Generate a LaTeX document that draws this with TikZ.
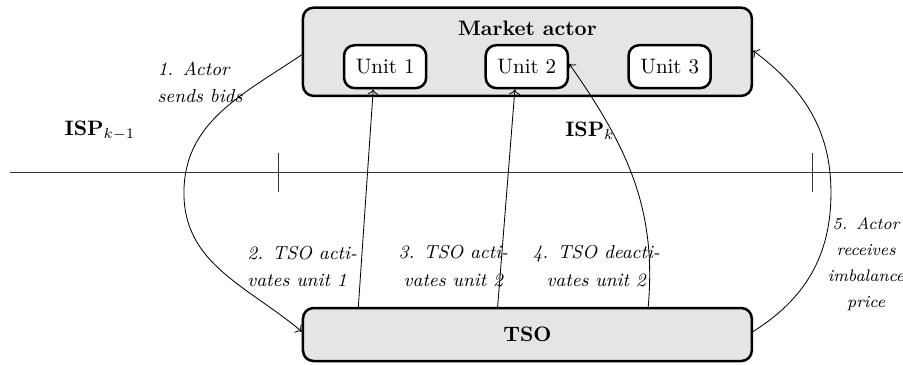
\documentclass[tikz,border=0pt]{standalone}
\usepackage{tikz}
\usetikzlibrary{calc}
\usetikzlibrary{arrows.meta}

\begin{document}
\begin{tikzpicture} [
  bigbox/.style={draw,very thick,rounded corners=5pt,fill=gray!20,minimum width=7.54cm},
  unitbox/.style={draw,very thick,rounded corners=5pt,fill=white,minimum width=1.38cm,minimum height=0.72cm},
  steplabel/.style={font=\small\itshape,align=left,inner sep=0pt,anchor=west}
]

\useasboundingbox (0,0) rectangle (15.17,-6.13);

\coordinate (L) at (0.17,-2.89);
\coordinate (R) at (15.17,-2.89);
\coordinate (bidbend) at (3.09,-3.24);
\coordinate (pricebend) at (13.96,-3.24);

\node[bigbox,minimum height=1.48cm] (actor) at (8.86,-0.87) {};
\node[font=\bfseries] (actortitle) at (8.86,-0.47) {Market actor};
\node[unitbox] (unit1) at (6.47,-1.12) {Unit 1};
\node[unitbox] (unit2) at (8.85,-1.12) {Unit 2};
\node[unitbox] (unit3) at (11.25,-1.12) {Unit 3};
\node[bigbox,minimum height=0.89cm,font=\bfseries] (tso) at (8.86,-5.62) {TSO};

\draw[black!80] (L)--(R);
\draw[black!80] (4.67,-2.57)--(4.67,-3.23);
\draw[black!80] (13.64,-2.57)--(13.64,-3.23);

\node (ispa) at (1.68,-2.2) {$\mathbf{ISP}_{k-1}$};
\node (ispb) at (9.91,-2.2) {$\mathbf{ISP}_{k}$};

\draw[->] ([yshift=-0.05cm]actor.west) to[out=214,in=90] (bidbend) to[out=-90,in=140] ([yshift=0.05cm]tso.west);
\draw[->] ([xshift=-2.84cm]tso.north) -- ([xshift=-0.2cm]unit1.south);
\draw[->] ([xshift=-0.5cm]tso.north) -- ([xshift=-0.2cm]unit2.south);
\draw[->] ([xshift=2.03cm]tso.north) to[out=85,in=-55] ([yshift=0.05cm]unit2.east);
\draw[->] ([yshift=0.05cm]tso.east) to[out=32,in=-90] (pricebend) to[out=90,in=-37] ([yshift=0.02cm]actor.east);

\node[steplabel] (s1) at (2.64,-1.38) {1. Actor\\[2pt]sends bids};
\node[steplabel] (s2) at (4.15,-4.47) {2. TSO acti-\\[2pt]vates unit 1};
\node[steplabel,align=center] (s3) at (6.69,-4.47) {3. TSO acti-\\[2pt]vates unit 2};
\node[steplabel,align=center] (s4) at (8.94,-4.47) {4. TSO deacti-\\[2pt]vates unit 2};
\node[steplabel,align=center,anchor=center,font=\footnotesize\itshape] (s5) at (14.55,-4.44) {5. Actor\\[3pt]receives\\[3pt]imbalance\\[3pt]price};

\end{tikzpicture}
\end{document}
